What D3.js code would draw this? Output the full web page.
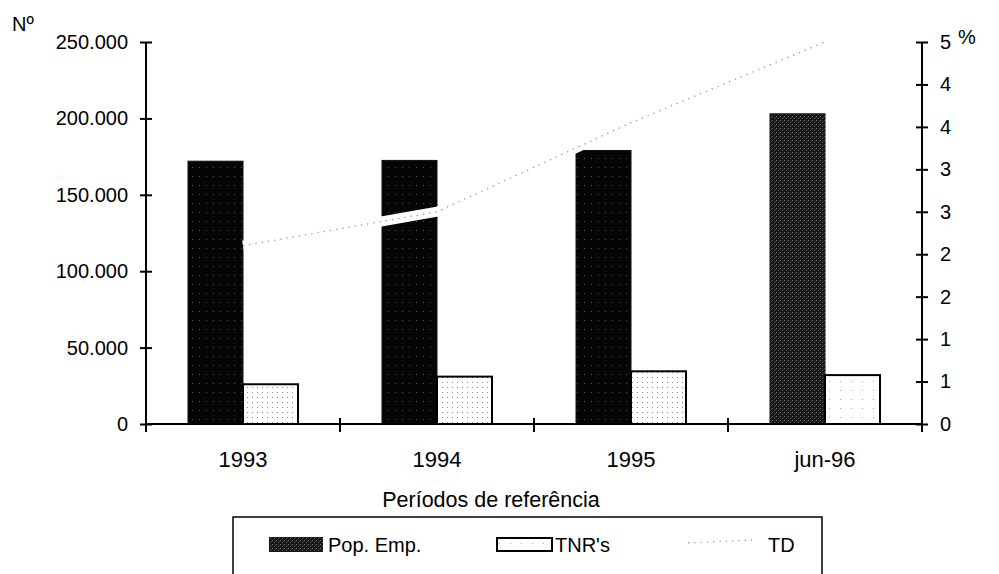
<!DOCTYPE html>
<html>
<head>
<meta charset="utf-8">
<script src="https://cdn.jsdelivr.net/npm/d3@7"></script>
<style>
  body { margin: 0; background: #fff; }
  text { font-family: "Liberation Sans", Arial, sans-serif; fill: #000; }
</style>
</head>
<body>
<div id="chart"></div>
<script>
// Data
const categories = ["1993", "1994", "1995", "jun-96"];
const popEmp = [172000, 172500, 179000, 203000];   // left axis (Nº)
const tnrs = [26000, 31000, 34500, 32000];         // left axis (Nº)
const td = [2.1, 2.5, 3.55, 4.5];                  // right axis (%)
const leftTicks = [0, 50000, 100000, 150000, 200000, 250000];
const rightTicks = [0, 0.5, 1, 1.5, 2, 2.5, 3, 3.5, 4, 4.5];

const W = 999, H = 574;
const plot = { left: 146, right: 922, top: 42, bottom: 424 };

const svg = d3.select("#chart").append("svg")
    .attr("width", W)
    .attr("height", H);

// Patterns for the scanned-looking fills
const defs = svg.append("defs");

const darkPat = defs.append("pattern")
    .attr("id", "darkFill")
    .attr("width", 7).attr("height", 9)
    .attr("patternUnits", "userSpaceOnUse");
darkPat.append("rect").attr("width", 7).attr("height", 9).attr("fill", "#050505");
darkPat.append("rect").attr("x", 3).attr("y", 5).attr("width", 1).attr("height", 1).attr("fill", "#555");

const grayPat = defs.append("pattern")
    .attr("id", "grayFill")
    .attr("width", 4).attr("height", 4)
    .attr("patternUnits", "userSpaceOnUse");
grayPat.append("rect").attr("width", 4).attr("height", 4).attr("fill", "#161616");
grayPat.append("rect").attr("x", 0).attr("y", 0).attr("width", 1).attr("height", 1).attr("fill", "#7a7a7a");
grayPat.append("rect").attr("x", 2).attr("y", 2).attr("width", 1).attr("height", 1).attr("fill", "#5a5a5a");
grayPat.append("rect").attr("x", 3).attr("y", 1).attr("width", 1).attr("height", 1).attr("fill", "#404040");

const dotPat = defs.append("pattern")
    .attr("id", "dotFill")
    .attr("width", 5).attr("height", 5)
    .attr("patternUnits", "userSpaceOnUse");
dotPat.append("rect").attr("width", 5).attr("height", 5).attr("fill", "#fff");
dotPat.append("rect").attr("x", 2).attr("y", 2).attr("width", 1).attr("height", 1).attr("fill", "#888");

const sparsePat = defs.append("pattern")
    .attr("id", "sparseFill")
    .attr("width", 11).attr("height", 9)
    .attr("patternUnits", "userSpaceOnUse");
sparsePat.append("rect").attr("width", 11).attr("height", 9).attr("fill", "#fff");
sparsePat.append("rect").attr("x", 4).attr("y", 3).attr("width", 1).attr("height", 1).attr("fill", "#aaa");

// Scales
const x = d3.scaleBand()
    .domain(categories)
    .range([plot.left, plot.right])
    .paddingInner(0.433)
    .paddingOuter(0.2165);

const yL = d3.scaleLinear().domain([0, 250000]).range([plot.bottom, plot.top]);
const yR = d3.scaleLinear().domain([0, 4.5]).range([plot.bottom, plot.top]);
const barW = x.bandwidth() / 2;

// Bars: Pop. Emp.
svg.append("g").selectAll("rect")
    .data(popEmp)
    .join("rect")
    .attr("x", (d, i) => x(categories[i]))
    .attr("y", d => yL(d))
    .attr("width", barW)
    .attr("height", d => yL(0) - yL(d))
    .attr("fill", (d, i) => i === 3 ? "url(#grayFill)" : "url(#darkFill)")
    .attr("stroke", "#111")
    .attr("stroke-width", 1);

// Bars: TNR's
svg.append("g").selectAll("rect")
    .data(tnrs)
    .join("rect")
    .attr("x", (d, i) => x(categories[i]) + barW)
    .attr("y", d => yL(d))
    .attr("width", barW)
    .attr("height", d => yL(0) - yL(d))
    .attr("fill", (d, i) => i === 3 ? "url(#sparseFill)" : "url(#dotFill)")
    .attr("stroke", "#000")
    .attr("stroke-width", 2);

// TD line: white band with faint dots
const line = d3.line()
    .x((d, i) => x(categories[i]) + x.bandwidth() / 2)
    .y(d => yR(d));

svg.append("path")
    .datum(td)
    .attr("d", line)
    .attr("fill", "none")
    .attr("stroke", "#fff")
    .attr("stroke-width", 10)
    .attr("stroke-linejoin", "miter");

svg.append("path")
    .datum(td)
    .attr("d", line)
    .attr("fill", "none")
    .attr("stroke", "#999")
    .attr("stroke-width", 1.3)
    .attr("stroke-dasharray", "1.3,5");

// Left axis
const fmtDot = d => d3.format(",")(d).replace(/,/g, ".");
const axL = svg.append("g")
    .attr("transform", `translate(${plot.left},0)`)
    .call(d3.axisLeft(yL).tickValues(leftTicks).tickFormat(fmtDot).tickSize(6).tickPadding(12));
axL.selectAll(".tick line").attr("x1", 6);

// Right axis
const axR = svg.append("g")
    .attr("transform", `translate(${plot.right},0)`)
    .call(d3.axisRight(yR).tickValues(rightTicks).tickFormat(d => Math.round(d)).tickSize(6).tickPadding(12));
axR.selectAll(".tick line").attr("x1", -6);

// Bottom axis with labels at category centres
const axB = svg.append("g")
    .attr("transform", `translate(0,${plot.bottom})`)
    .call(d3.axisBottom(x).tickSize(0).tickPadding(27));

// Tick marks between categories
const bounds = d3.range(categories.length + 1).map(i => plot.left + i * x.step());
axB.selectAll(".sep")
    .data(bounds)
    .join("line")
    .attr("class", "sep")
    .attr("x1", d => d).attr("x2", d => d)
    .attr("y1", -6).attr("y2", 8)
    .attr("stroke", "#000")
    .attr("stroke-width", 2);

[axL, axR, axB].forEach(a => {
    a.select(".domain").attr("stroke", "#000").attr("stroke-width", 2);
    a.selectAll(".tick line").attr("stroke", "#000").attr("stroke-width", 2);
    a.selectAll("text")
        .style("font-family", "'Liberation Sans', Arial, sans-serif")
        .style("font-size", "20px")
        .attr("fill", "#000");
});
axB.selectAll("text").style("font-size", "22px");
axL.select(".domain").attr("d", `M0,${plot.top}V${plot.bottom}`);
axR.select(".domain").attr("d", `M0,${plot.top}V${plot.bottom}`);
axB.select(".domain").attr("d", `M${plot.left},0H${plot.right}`);

// Axis titles
svg.append("text").attr("x", 12).attr("y", 31).style("font-size", "20px").text("Nº");
svg.append("text").attr("x", 958).attr("y", 44).style("font-size", "20px").text("%");
svg.append("text")
    .attr("x", 491).attr("y", 507)
    .attr("text-anchor", "middle")
    .style("font-size", "21.5px")
    .text("Períodos de referência");

// Legend
const legend = svg.append("g");
legend.append("rect")
    .attr("x", 233).attr("y", 517)
    .attr("width", 589).attr("height", 70)
    .attr("fill", "#fff")
    .attr("stroke", "#000")
    .attr("stroke-width", 1.5);

legend.append("rect")
    .attr("x", 269).attr("y", 537).attr("width", 54).attr("height", 15)
    .attr("fill", "url(#grayFill)");
legend.append("text").attr("x", 328).attr("y", 552).style("font-size", "20px").text("Pop. Emp.");

legend.append("rect")
    .attr("x", 497).attr("y", 538).attr("width", 55).attr("height", 13)
    .attr("fill", "url(#sparseFill)")
    .attr("stroke", "#000").attr("stroke-width", 2);
legend.append("text").attr("x", 555).attr("y", 552).style("font-size", "20px").text("TNR's");

legend.append("line")
    .attr("x1", 688).attr("y1", 543).attr("x2", 752).attr("y2", 540)
    .attr("stroke", "#999")
    .attr("stroke-width", 1.3)
    .attr("stroke-dasharray", "1.3,5");
legend.append("text").attr("x", 768).attr("y", 552).style("font-size", "20px").text("TD");
</script>
</body>
</html>
